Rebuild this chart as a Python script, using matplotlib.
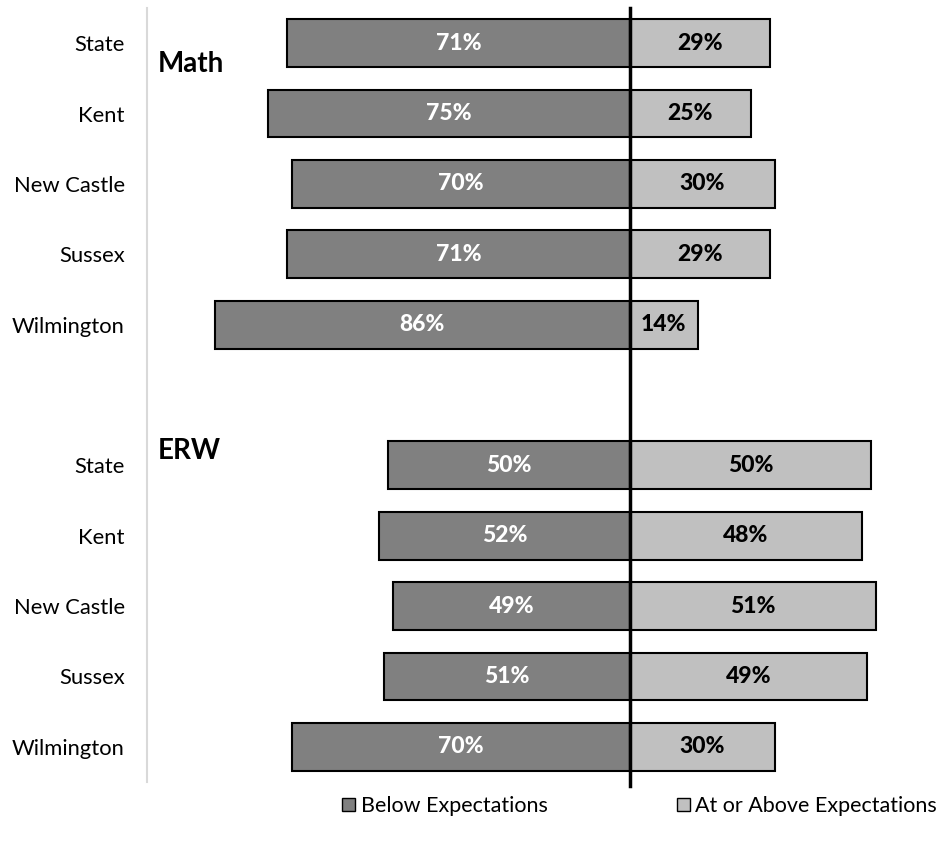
import matplotlib.pyplot as plt
from matplotlib.patches import Patch

plt.rcParams['font.family'] = ['Lato', 'DejaVu Sans']

regions = ["State", "Kent", "New Castle", "Sussex", "Wilmington"]
math_below = [71, 75, 70, 71, 86]
math_above = [29, 25, 30, 29, 14]
erw_below = [50, 52, 49, 51, 70]
erw_above = [50, 48, 51, 49, 30]

dark = "#808080"
light = "#C0C0C0"

fig = plt.figure(figsize=(9.39, 8.46), dpi=100)
ax = fig.add_axes([147 / 939, 64 / 846, 1 - 147 / 939, 774 / 846])

# Math rows on top, a blank row, then ERW rows
pos_math = list(range(5))
pos_erw = [p + 6 for p in range(5)]
positions = pos_math + pos_erw
below = math_below + erw_below
above = math_above + erw_above
labels = regions + regions

h = 0.68
ax.barh(positions, [-b for b in below], height=h, color=dark,
        edgecolor="black", linewidth=1.5, zorder=2)
ax.barh(positions, above, height=h, color=light,
        edgecolor="black", linewidth=1.5, zorder=2)

for y, b, a in zip(positions, below, above):
    ax.text(-b / 2, y, f"{b}%", ha="center", va="center", color="white",
            fontsize=16.5, fontweight=900, zorder=3)
    ax.text(a / 2, y, f"{a}%", ha="center", va="center", color="black",
            fontsize=16.5, fontweight=900, zorder=3)

ax.axvline(0, color="black", linewidth=2.5, ymin=-0.005, zorder=4, clip_on=False)

ax.set_xlim(-100, 64)
ax.set_ylim(10.5, -0.5)
ax.set_yticks(positions)
ax.set_yticklabels(labels, fontsize=15.8)
ax.tick_params(axis="y", length=0, pad=16)
ax.set_xticks([])
for s in ["top", "right", "bottom"]:
    ax.spines[s].set_visible(False)
ax.spines["left"].set_color("#D9D9D9")
ax.spines["left"].set_linewidth(1.5)

ax.text(-97.8, 0.3, "Math", fontsize=20, fontweight="bold", ha="left", va="center")
ax.text(-97.8, 5.8, "ERW", fontsize=20, fontweight="bold", ha="left", va="center")

handles = [Patch(facecolor=dark, edgecolor="black", label="Below Expectations"),
           Patch(facecolor=light, edgecolor="black", label="At or Above Expectations")]
fig.legend(handles=handles, loc="center", bbox_to_anchor=(0.681, 0.047), ncol=2,
           frameon=False, fontsize=15.5, handlelength=0.6, handleheight=0.6,
           handletextpad=0.25, columnspacing=6.0)

fig.savefig("out.png", dpi=100)
